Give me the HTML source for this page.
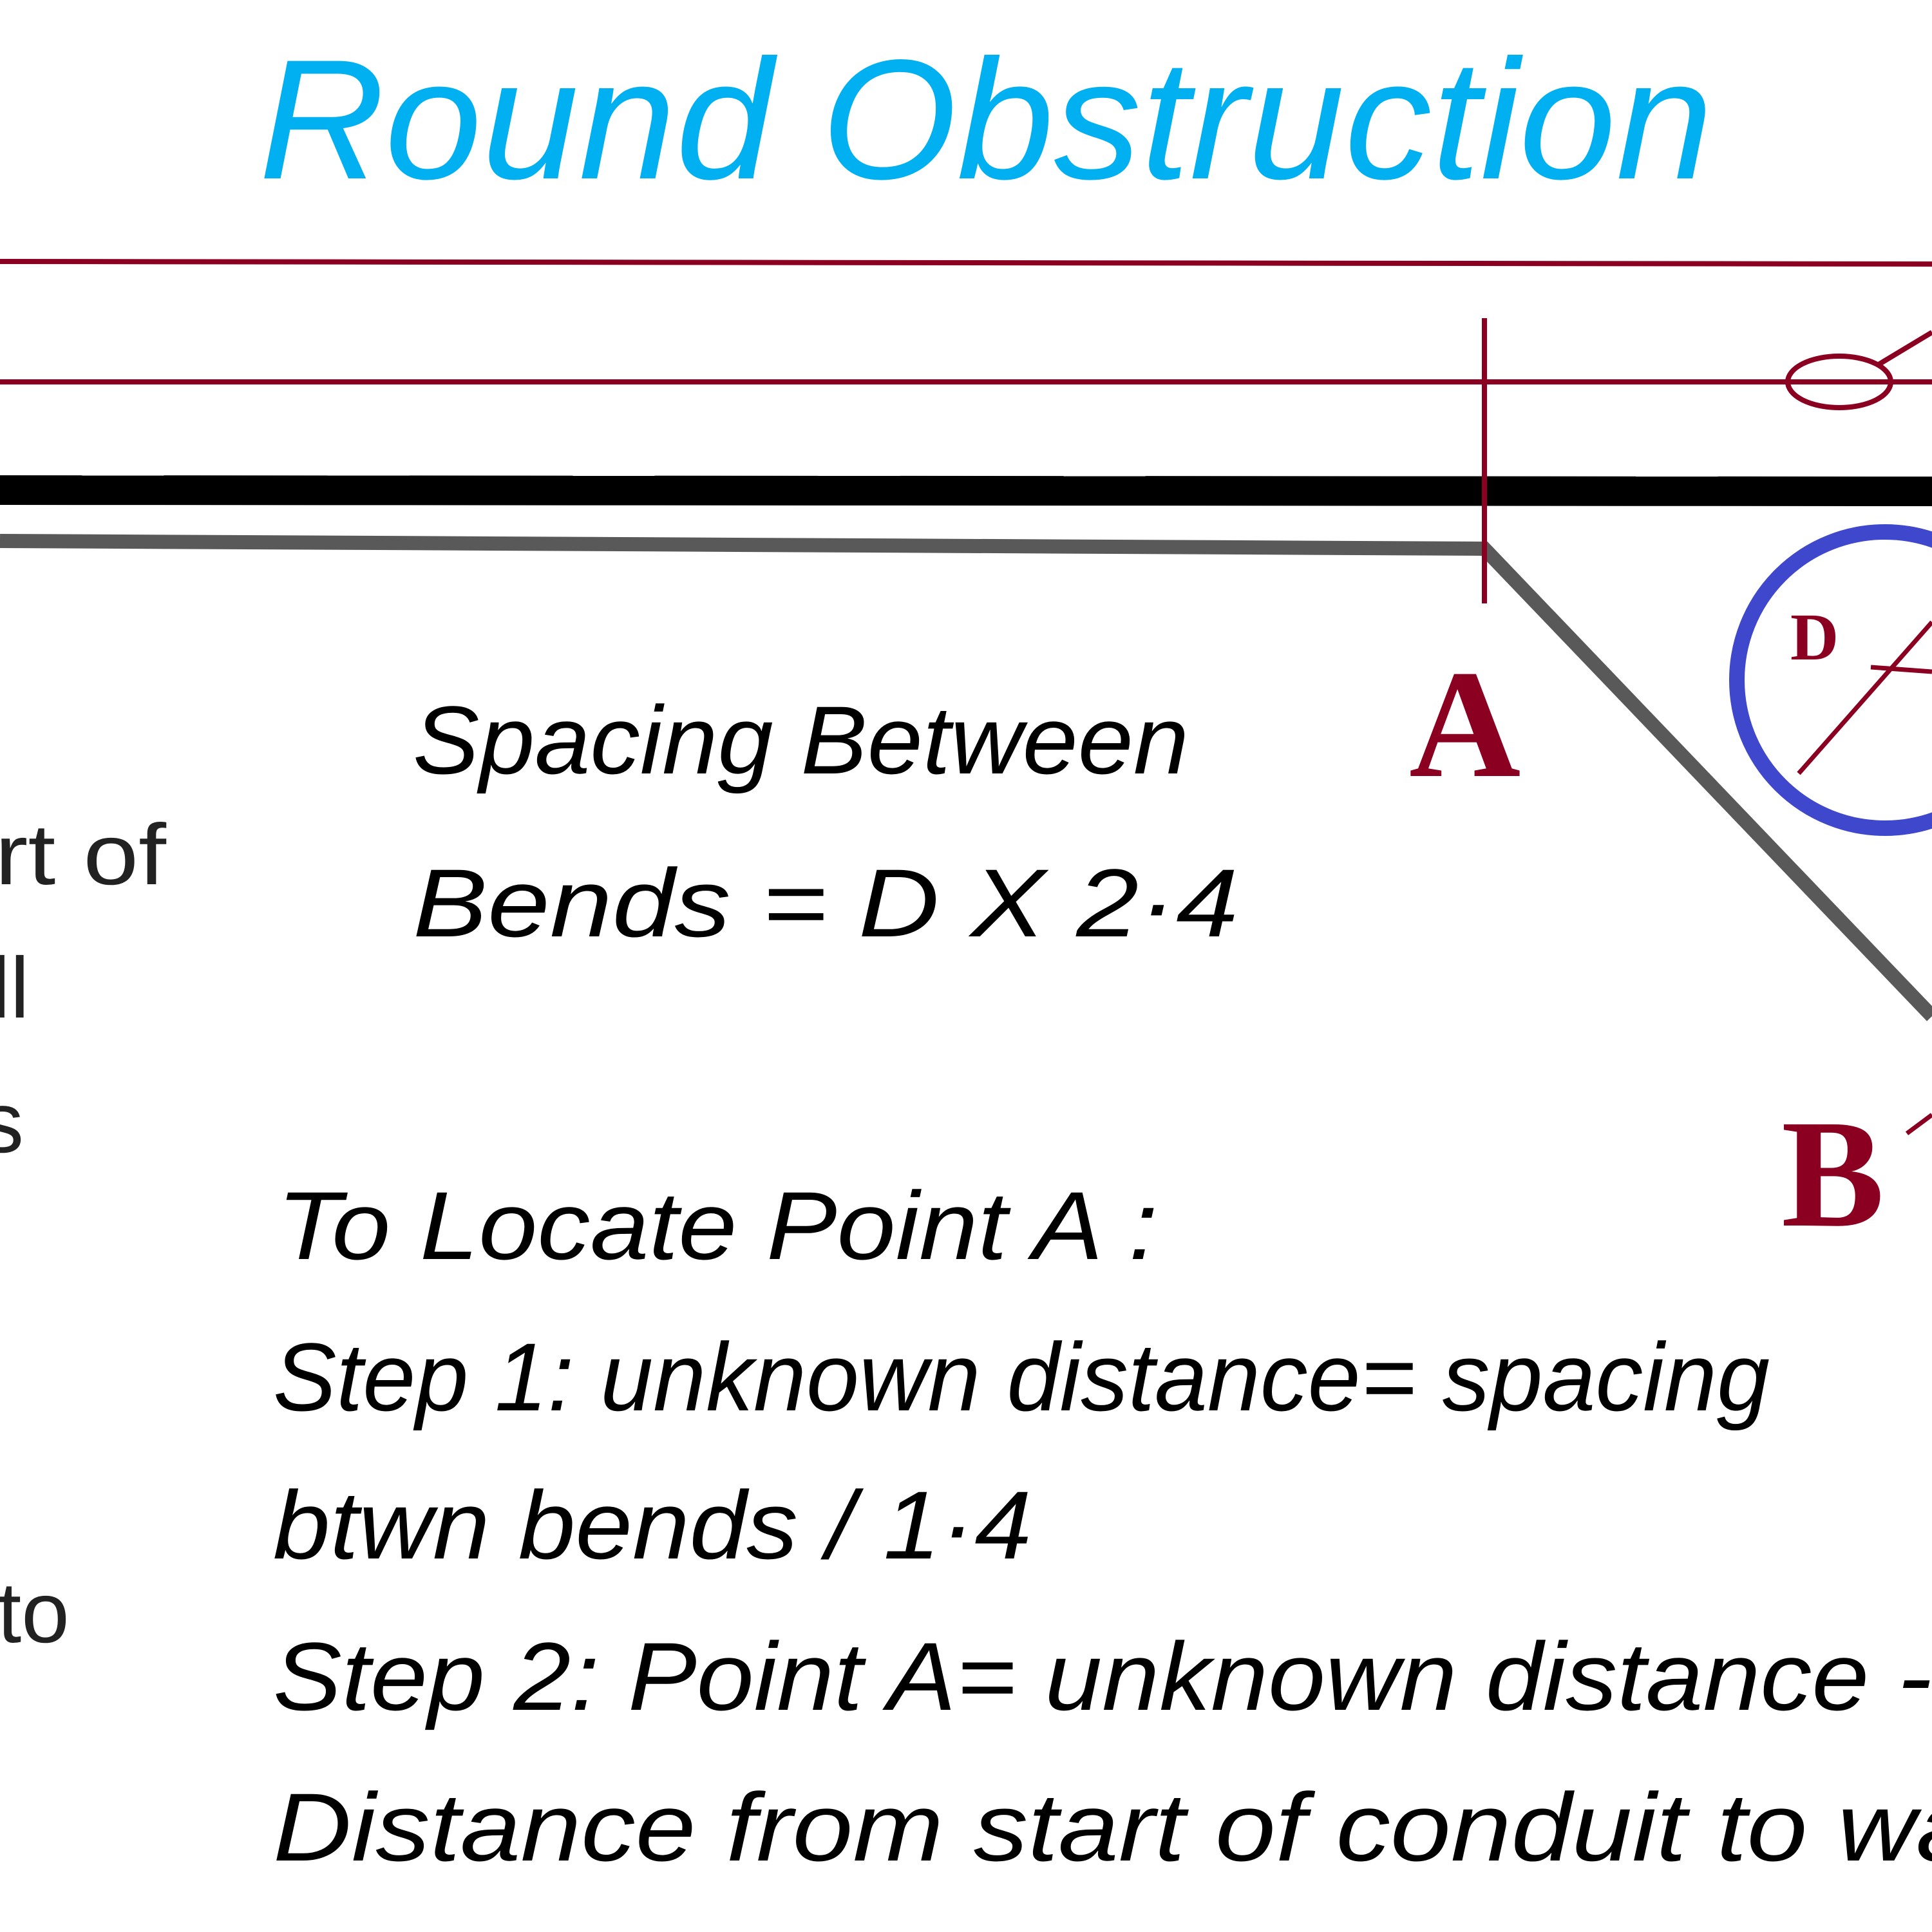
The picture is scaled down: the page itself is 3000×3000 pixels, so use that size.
<!DOCTYPE html>
<html><head><meta charset="utf-8"><style>
html,body{margin:0;padding:0;background:#fff;}
svg{display:block}
</style></head><body>
<svg width="3000" height="3000" viewBox="0 0 3000 3000" xmlns="http://www.w3.org/2000/svg">
<rect width="3000" height="3000" fill="#fff"/>
<text x="402" y="277" font-family="Liberation Sans, sans-serif" font-style="italic" font-size="265" fill="#00b0f0" textLength="2258" lengthAdjust="spacingAndGlyphs">Round Obstruction</text>
<line x1="0" y1="406" x2="3000" y2="410" stroke="#8b0020" stroke-width="8"/>
<line x1="0" y1="593" x2="3000" y2="593" stroke="#8b0020" stroke-width="8"/>
<line x1="0" y1="761" x2="3000" y2="763" stroke="#000" stroke-width="46"/>
<polyline points="0,840 2305,852 3000,1578" fill="none" stroke="#595959" stroke-width="22"/>
<line x1="2305" y1="494" x2="2305" y2="937" stroke="#8b0020" stroke-width="8"/>
<ellipse cx="2856" cy="593" rx="80" ry="40" fill="none" stroke="#8b0020" stroke-width="8"/>
<line x1="2917" y1="566" x2="3000" y2="516" stroke="#8b0020" stroke-width="8"/>
<circle cx="2927" cy="1056" r="230" fill="none" stroke="#3f48cc" stroke-width="24"/>
<text x="2780" y="1024" font-family="Liberation Serif, serif" font-weight="bold" font-size="104" fill="#8b0020">D</text>
<line x1="2793" y1="1201" x2="3000" y2="966" stroke="#8b0020" stroke-width="7"/>
<line x1="2905" y1="1036" x2="3000" y2="1043" stroke="#8b0020" stroke-width="7"/>
<text x="2188" y="1205" font-family="Liberation Serif, serif" font-weight="bold" font-size="240" fill="#8b0020">A</text>
<text x="2766" y="1903" font-family="Liberation Serif, serif" font-weight="bold" font-size="240" fill="#8b0020">B</text>
<line x1="2961" y1="1760" x2="3000" y2="1731" stroke="#8b0020" stroke-width="7"/>
<g font-family="Liberation Sans, sans-serif" font-style="italic" font-size="150" fill="#000">
<text x="641" y="1201" textLength="1205" lengthAdjust="spacingAndGlyphs">Spacing Between</text>
<text x="641" y="1454" textLength="1282" lengthAdjust="spacingAndGlyphs">Bends = D X 2·4</text>
<text x="430" y="1955" textLength="1368" lengthAdjust="spacingAndGlyphs">To Locate Point A :</text>
<text x="424" y="2190" textLength="2324" lengthAdjust="spacingAndGlyphs">Step 1: unknown distance= spacing</text>
<text x="424" y="2420" textLength="1178" lengthAdjust="spacingAndGlyphs">btwn bends / 1·4</text>
<text x="424" y="2655" textLength="2576" lengthAdjust="spacingAndGlyphs">Step 2: Point A= unknown distance -</text>
<text x="424" y="2889" textLength="2720" lengthAdjust="spacingAndGlyphs">Distance from start of conduit to wall</text>
</g>
<g font-family="Liberation Sans, sans-serif" font-size="134" fill="#222">
<text x="-8" y="1373" textLength="266" lengthAdjust="spacingAndGlyphs">rt of</text>
<text x="-14" y="1580">ll</text>
<text x="-30" y="1789">s</text>
<text x="-4" y="2550">to</text>
</g>
</svg>
</body></html>
